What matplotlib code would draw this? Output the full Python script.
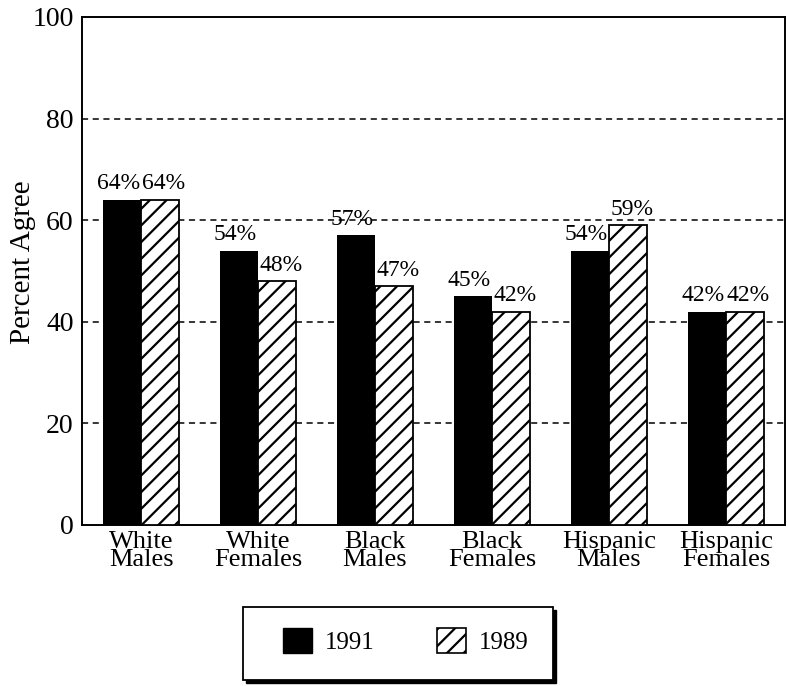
import matplotlib
matplotlib.use("Agg")
import matplotlib.pyplot as plt
from matplotlib.patches import Rectangle, Patch
import numpy as np

categories = ["White\nMales", "White\nFemales", "Black\nMales", "Black\nFemales",
              "Hispanic\nMales", "Hispanic\nFemales"]
values_1991 = [64, 54, 57, 45, 54, 42]
values_1989 = [64, 48, 47, 42, 59, 42]
series_names = ["1991", "1989"]
yticks = [0, 20, 40, 60, 80, 100]

plt.rcParams['font.family'] = ['Liberation Serif', 'DejaVu Serif']
plt.rcParams['hatch.linewidth'] = 1.6
plt.rcParams['hatch.color'] = 'black'

fig = plt.figure(figsize=(7.88, 6.86), dpi=100)
ax = fig.add_axes([82/788, 1-525/686, (785-82)/788, (525-17)/686])

x = np.arange(len(categories))
w = 0.325
b1 = ax.bar(x - w/2, values_1991, w, color='black', edgecolor='black', linewidth=0, zorder=3)
b2 = ax.bar(x + w/2, values_1989, w, color='white', edgecolor='black', linewidth=1.3,
            hatch='//', zorder=3)

for bars, vals, dx in ((b1, values_1991, -2.6), (b2, values_1989, 2.6)):
    for r, v in zip(bars, vals):
        ax.annotate(f"{v}%", (r.get_x() + r.get_width()/2, v), xytext=(dx, 4),
                    textcoords='offset points', ha='center', va='bottom', fontsize=17)

ax.set_xlim(-0.505, 5.505)
ax.set_ylim(0, 100)
ax.set_yticks(yticks)
ax.set_yticklabels([str(t) for t in yticks], fontsize=20)
ax.set_xticks(x)
ax.set_xticklabels(categories, fontsize=19, linespacing=0.8)
ax.tick_params(axis='both', length=0)
ax.tick_params(axis='y', pad=6)
ax.tick_params(axis='x', pad=4)
for t in [20, 40, 60, 80]:
    ax.axhline(t, color='black', linestyle=(0, (4, 3)), linewidth=1.1, zorder=1)
for s in ax.spines.values():
    s.set_linewidth(1.4)
fig.text(23/788, 1-262/686, "Percent Agree", rotation=90, ha='center', va='center',
         fontsize=21)

# legend box with shadow
bx0, by0, bx1, by1 = 243/788, 1-680/686, 553/788, 1-607/686
fig.patches.append(Rectangle((bx0 + 3/788, by0 - 3/686), bx1-bx0, by1-by0,
                             transform=fig.transFigure, facecolor='black',
                             edgecolor='black', zorder=1))
fig.patches.append(Rectangle((bx0, by0), bx1-bx0, by1-by0, transform=fig.transFigure,
                             facecolor='white', edgecolor='black', linewidth=1.3, zorder=2))
handles = [Patch(facecolor='black', edgecolor='black'),
           Patch(facecolor='white', edgecolor='black', hatch='//', linewidth=1.2)]
leg = fig.legend(handles, series_names, loc='center',
                 bbox_to_anchor=(406/788, 1-641/686),
                 ncol=2, frameon=False, fontsize=18, handlelength=1.16, handleheight=1.16,
                 handletextpad=0.52, columnspacing=2.5, borderpad=0)
leg.set_zorder(5)

fig.savefig("out.png", dpi=100)
